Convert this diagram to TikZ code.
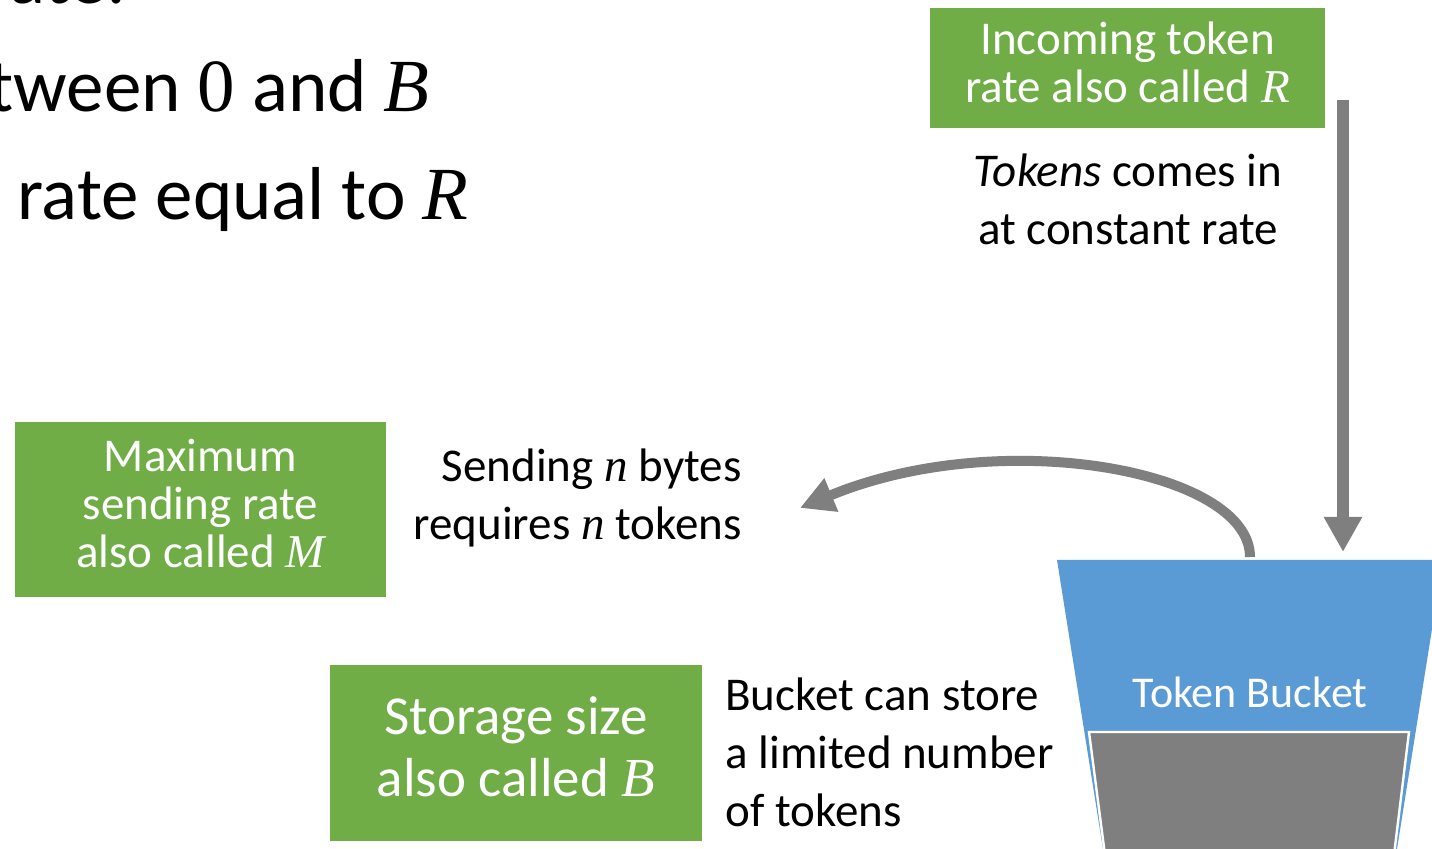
\documentclass[tikz,border=0pt]{standalone}
\usepackage{fontspec}
\setmainfont{Carlito}
\newfontfamily\varfont{Liberation Serif}
\newcommand{\pvar}[1]{{\varfont\itshape #1}}
\usetikzlibrary{arrows.meta,calc}

\definecolor{boxgreen}{HTML}{70AD47}
\definecolor{bucketblue}{HTML}{5B9BD5}
\definecolor{flowgray}{HTML}{7F7F7F}

\begin{document}
\begin{tikzpicture}[
  x=0.5pt, y=-0.5pt,
  slide/.style={font=\fontsize{37.5}{54}\selectfont, inner sep=0pt},
  greenbox/.style={fill=boxgreen, text=white, align=center, inner sep=0pt,
    font=\fontsize{23.5}{24}\selectfont},
  note/.style={font=\fontsize{23.5}{29}\selectfont, inner sep=0pt},
  inflow/.style={draw=flowgray, line width=6.3pt,
    -{Triangle[length=17.5pt,width=18pt]}},
  outflow/.style={draw=flowgray, line width=5pt,
    -{Triangle[length=17pt,width=17pt]}}
]
\useasboundingbox (0,0) rectangle (1432,849);
\clip (0,0) rectangle (1432,849);

% ------------------------------------------------------------
% Slide text, cut off at the left
% ------------------------------------------------------------
\node[slide, anchor=base east] (lineA) at (127,4) {rate:};
\node[slide, anchor=base east] (lineB) at (430,112) {tween \pvar{\upshape 0} and \pvar{B}};
\node[slide, anchor=base east] (lineC) at (469,220) {g rate equal to \pvar{R}};

% ------------------------------------------------------------
% The bucket
% ------------------------------------------------------------
\fill[bucketblue] (1057,560) -- (1443,560) -- (1397,849) -- (1103,849) -- cycle;
\filldraw[fill=flowgray, draw=white, line width=1.2pt]
  (1089,732) -- (1409,732) -- (1394,855) -- (1105,855) -- cycle;
\node[font=\fontsize{22}{26}\selectfont, text=white, anchor=base]
  (bucketLabel) at (1250,708) {Token Bucket};

\coordinate (rateIn) at (1343,100);
\coordinate (bucketIn) at (1343,552);
\coordinate (bucketOut) at (1250,557);
\coordinate (sendTip) at (800,508);

% ------------------------------------------------------------
% Parameters
% ------------------------------------------------------------
\node[greenbox, minimum width=197.5pt, minimum height=60pt,
  text height=47.5pt, text depth=12.5pt]
  (rateBox) at (1127.5,68) {Incoming token\\rate also called \pvar{R}};
\node[note, align=center, anchor=base]
  (rateNote) at (1128,245) {\textit{Tokens} comes in\\at constant rate};

\node[greenbox, minimum width=185.5pt, minimum height=87.5pt,
  text height=73pt, text depth=14.5pt]
  (maxBox) at (200.5,509.5) {Maximum\\sending rate\\also called \pvar{M}};
\node[note, align=right, anchor=base east]
  (sendNote) at (742,540) {Sending \pvar{n} bytes\\requires \pvar{n} tokens};

\node[greenbox, font=\fontsize{27.5}{31}\selectfont,
  minimum width=186pt, minimum height=88pt,
  text height=66pt, text depth=22pt]
  (storeBox) at (516,753) {Storage size\\also called \pvar{B}};
\node[note, align=left, anchor=base west]
  (storeNote) at (725,827) {Bucket can store\\a limited number\\of tokens};

% Token flow
\draw[inflow] (rateIn) -- (bucketIn);
\draw[outflow] (bucketOut) .. controls (1250,470) and (1000,425) .. (sendTip);

\end{tikzpicture}
\end{document}
